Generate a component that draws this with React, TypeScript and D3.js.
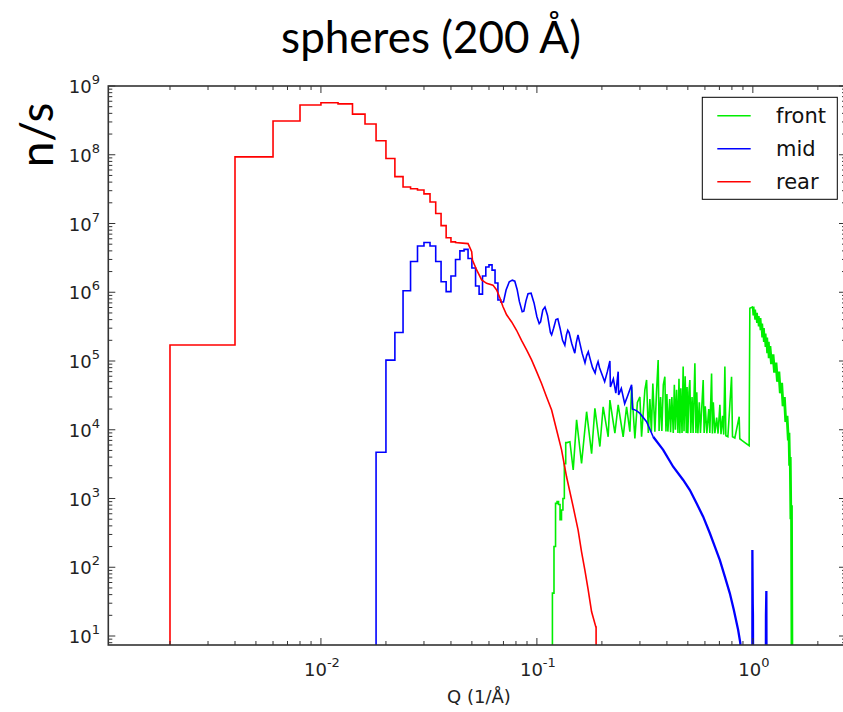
import React from 'react';
import * as d3 from 'd3';

const W = 843;
const H = 712;
const M = { left: 108.3, right: 846, top: 86, bottom: 645 };
const xDomain = [1.036e-3, 2.7];
const yDomain = [7.4, 1e9];

const xMajorExps = [-2, -1, 0];
const yMajorExps = [1, 2, 3, 4, 5, 6, 7, 8, 9];

const titleText = 'spheres (200 Å)';
const yLabelText = 'n/s';
const xLabelText = 'Q (1/Å)';

const seriesNames = ['front', 'mid', 'rear'];
const seriesColors = ['#00ee00', '#0000ff', '#ff0000'];

// value below the axis floor: used where a trace drops off the bottom
const BELOW = 1;

// ---- rear (red) ----
const redBinEdges = [0.002, 0.004, 0.006, 0.008, 0.010, 0.012, 0.014, 0.016, 0.018, 0.020, 0.022,
  0.024, 0.026, 0.028, 0.030, 0.032, 0.034, 0.036, 0.038, 0.040, 0.042];
const redBinValues = [1.71e5, 9.3e7, 3.1e8, 5.3e8, 5.7e8, 5.5e8, 3.9e8, 2.8e8, 1.6e8, 8.8e7,
  4.8e7, 3.4e7, 3.2e7, 3.07e7, 2.7e7, 2.05e7, 1.4e7, 9.3e6, 6.2e6, 5.4e6];
const redTail: [number, number][] = [
  [0.042, 5.3e6], [0.048, 5.1e6], [0.0499, 3.9e6], [0.0503, 2.94e6], [0.0526, 2.11e6],
  [0.0555, 1.51e6], [0.0585, 1.35e6], [0.0626, 1.27e6], [0.0651, 1.08e6], [0.0675, 8.2e5],
  [0.0696, 6.2e5], [0.0724, 4.7e5], [0.0764, 3.7e5], [0.0805, 2.8e5], [0.0849, 2.0e5],
  [0.0896, 1.45e5], [0.0945, 1.04e5], [0.0997, 7.0e4], [0.1051, 4.7e4], [0.1109, 3.0e4],
  [0.117, 1.94e4], [0.1234, 9.9e3], [0.1301, 5.1e3], [0.1372, 2.07e3], [0.1472, 760],
  [0.1552, 348], [0.161, 168], [0.1668, 91], [0.1728, 47], [0.1792, 22.5], [0.1875, 13.5],
  [0.188, 13.5], [0.188, BELOW],
];

// ---- mid (blue) ----
const blueBinEdges = [0.018, 0.020, 0.022, 0.024, 0.026, 0.028, 0.030, 0.032, 0.034, 0.036, 0.038,
  0.040, 0.042, 0.044, 0.046, 0.048, 0.050, 0.052, 0.054, 0.056, 0.058, 0.060, 0.062, 0.064,
  0.066, 0.068, 0.070];
const blueBinValues = [4.7e3, 1.03e5, 2.6e5, 1.05e6, 2.8e6, 4.7e6, 5.3e6, 4.7e6, 2.8e6, 1.42e6,
  1.02e6, 1.72e6, 3.0e6, 4.0e6, 4.2e6, 3.1e6, 2.25e6, 1.23e6, 9.4e5, 1.72e6, 2.33e6, 2.5e6,
  2.1e6, 1.36e6, 7.7e5, 7.2e5];
const blueTail: [number, number][] = [
  [0.070, 7.2e5], [0.072, 1.08e6], [0.0745, 1.42e6], [0.077, 1.5e6], [0.079, 1.45e6],
  [0.081, 1.1e6], [0.083, 7.3e5], [0.0855, 5.2e5], [0.087, 5.3e5], [0.089, 7.5e5],
  [0.091, 9.5e5], [0.094, 9.7e5], [0.097, 7.0e5], [0.100, 4.4e5], [0.1025, 3.5e5],
  [0.104, 3.7e5], [0.1065, 5.5e5], [0.109, 6.1e5], [0.112, 4.6e5], [0.1155, 2.6e5],
  [0.117, 2.4e5], [0.1195, 3.0e5], [0.1225, 4.0e5], [0.125, 4.1e5], [0.128, 3.0e5],
  [0.1315, 2.0e5], [0.1347, 1.7e5], [0.137, 2.4e5], [0.139, 2.8e5], [0.141, 2.6e5],
  [0.145, 1.8e5], [0.1498, 1.3e5], [0.152, 1.8e5], [0.155, 2.4e5], [0.157, 2.0e5],
  [0.162, 1.3e5], [0.167, 9.4e4], [0.170, 1.2e5], [0.173, 1.36e5], [0.176, 1.1e5],
  [0.181, 8.0e4], [0.186, 6.7e4], [0.189, 8.5e4], [0.192, 9.8e4], [0.195, 8.0e4],
  [0.206, 5.0e4], [0.212, 7.0e4], [0.2178, 1.0e5], [0.219, 4.2e4], [0.226, 5.5e4],
  [0.232, 3.4e4], [0.2379, 7.0e4], [0.239, 3.2e4], [0.246, 4.0e4], [0.255, 2.4e4],
  [0.262, 3.0e4], [0.2745, 4.5e4], [0.277, 2.0e4], [0.289, 1.9e4], [0.30, 1.73e4],
  [0.322, 1.31e4], [0.3455, 7.9e3],
];
const blueDecay: [number, number][] = [
  [0.3455, 7.9e3], [0.3843, 5.1e3], [0.4276, 2.9e3], [0.4757, 1.86e3],
  [0.5108, 1.33e3], [0.5487, 851], [0.5888, 544], [0.6324, 312], [0.6669, 199],
  [0.7035, 127], [0.742, 73], [0.7824, 41.8], [0.8166, 23.9], [0.855, 12.2], [0.875, 7.9],
  [0.877, BELOW], [0.995, BELOW], [0.995, 178], [0.999, 30], [1.001, 20], [1.004, BELOW],
  [1.148, BELOW], [1.150, 20], [1.155, 45], [1.158, BELOW],
];

// ---- front (green) ----
const greenBinEdges = [0.118, 0.120, 0.122, 0.124, 0.126, 0.128, 0.130, 0.132, 0.134, 0.136, 0.138];
const greenBinValues = [42, 200, 850, 900, 820, 490, 680, 1.0e3, 3.2e3, 6.5e3];
const greenTail: [number, number][] = [
  [0.1422, 6.7e3], [0.1473, 2.6e3], [0.1527, 1.39e4], [0.161, 3.25e3], [0.1699, 1.83e4],
  [0.1792, 4.5e3], [0.1856, 2.05e4], [0.1957, 5.7e3], [0.2027, 2.16e4], [0.2138, 7.9e3],
  [0.2178, 2.7e4], [0.2297, 8.9e3], [0.2379, 2.3e4], [0.2509, 7.9e3], [0.2602, 2.16e4],
  [0.2695, 9.4e3], [0.2745, 4.2e4], [0.2843, 7.5e3], [0.292, 2.5e4], [0.2999, 3.0e4],
  [0.3053, 7.9e3], [0.3162, 3.8e4], [0.3221, 5.3e4], [0.328, 9.0e3], [0.3336, 2.8e4],
  [0.339, 9.4e3], [0.3443, 4.7e4], [0.3518, 9.4e3], [0.358, 3.5e4], [0.3644, 1.03e5],
  [0.368, 9.6e3], [0.374, 3.0e4], [0.379, 9.6e3], [0.385, 4.5e4], [0.3913, 5.9e4],
  [0.396, 9.4e3], [0.400, 3.3e4], [0.4042, 9.4e3], [0.412, 2.8e4], [0.416, 9.2e3],
  [0.4217, 3.0e4], [0.428, 9.0e3], [0.433, 4.5e4], [0.438, 1.0e4], [0.4435, 3.8e4],
  [0.450, 9.0e3], [0.455, 5.5e4], [0.4592, 8.9e3], [0.464, 4.0e4], [0.470, 9.0e3],
  [0.4757, 8.3e4], [0.480, 9.5e3], [0.486, 6.0e4], [0.492, 9.0e3], [0.496, 4.2e4],
  [0.5002, 8.9e3], [0.506, 3.5e4], [0.5109, 5.3e4], [0.516, 9.0e3], [0.523, 3.0e4],
  [0.529, 9.0e3], [0.539, 9.3e4], [0.545, 9.0e3], [0.550, 3.5e4], [0.5566, 8.9e3],
  [0.565, 2.5e4], [0.572, 9.0e3], [0.5889, 5.3e4], [0.595, 9.0e3], [0.602, 2.2e4],
  [0.6124, 8.9e3], [0.625, 2.0e4], [0.632, 9.0e3], [0.644, 6.6e4], [0.650, 8.8e3],
  [0.656, 2.5e4], [0.6671, 8.9e3], [0.680, 1.5e4], [0.690, 8.8e3], [0.7036, 2.3e4],
  [0.712, 8.6e3], [0.725, 1.6e4], [0.733, 8.5e3], [0.7421, 8.3e4], [0.750, 8.2e3],
  [0.7663, 7.9e3], [0.7969, 5.9e4], [0.805, 7.9e3], [0.8254, 7.6e3], [0.8643, 1.55e4],
  [0.870, 7.4e3], [0.8896, 7.0e3], [0.9184, 6.5e3], [0.9614, 5.86e3], [0.9685, 5.84e5],
  [1.0032, 6.17e5],
];
const greenDecay: [number, number][] = [
  [1.0032, 6.17e5], [1.01, 4.6e5], [1.02, 5.6e5], [1.03, 4.0e5], [1.04, 5.0e5],
  [1.05, 3.6e5], [1.06, 4.5e5], [1.07, 3.2e5], [1.08, 4.2e5], [1.09, 2.8e5], [1.10, 3.5e5],
  [1.11, 2.2e5], [1.12, 3.0e5], [1.13, 1.9e5], [1.14, 2.5e5], [1.15, 1.6e5], [1.16, 2.2e5],
  [1.17, 1.3e5], [1.18, 1.9e5], [1.19, 1.1e5], [1.20, 1.65e5], [1.22, 9.0e4], [1.24, 1.25e5],
  [1.26, 6.8e4], [1.28, 9.5e4], [1.30, 5.0e4], [1.32, 7.0e4], [1.34, 3.4e4], [1.36, 4.8e4],
  [1.38, 2.2e4], [1.40, 3.0e4], [1.42, 1.3e4], [1.44, 1.6e4], [1.46, 7e3], [1.47, 9e3],
  [1.48, 3e3], [1.49, 4e3], [1.50, 500], [1.51, 800], [1.52, BELOW],
];

function buildTrace(edges: number[], values: number[], tail: [number, number][]) {
  const pts: [number, number][] = [[edges[0], BELOW]];
  values.forEach((v, i) => {
    pts.push([edges[i], v]);
    pts.push([edges[i + 1], v]);
  });
  return pts.concat(tail);
}

const traces = [
  { pts: buildTrace(greenBinEdges, greenBinValues, greenTail), color: 0, w: 1.6 },
  { pts: greenDecay, color: 0, w: 2.8 },
  { pts: buildTrace(blueBinEdges, blueBinValues, blueTail), color: 1, w: 1.6 },
  { pts: blueDecay, color: 1, w: 2.3 },
  { pts: buildTrace(redBinEdges, redBinValues, redTail), color: 2, w: 1.6 },
];

export default function App() {
  const x = d3.scaleLog().domain(xDomain).range([M.left, M.right]);
  const y = d3.scaleLog().domain(yDomain).range([M.bottom, M.top]);
  const line = d3.line<[number, number]>().x(d => x(d[0])).y(d => y(d[1]));

  const xMinor: number[] = [];
  for (let e = -3; e <= 0; e++) for (let k = 2; k <= 9; k++) {
    const v = k * Math.pow(10, e);
    if (v > xDomain[0] && v < xDomain[1]) xMinor.push(v);
  }
  const yMinor: number[] = [];
  for (let e = 0; e <= 8; e++) for (let k = 2; k <= 9; k++) {
    const v = k * Math.pow(10, e);
    if (v > yDomain[0] && v < yDomain[1]) yMinor.push(v);
  }
  const axisColor = '#333';
  const tickFont = 'DejaVu Sans, sans-serif';
  const MAJ = 7, MIN = 4;

  return (
    <svg width={W} height={H} style={{ position: 'absolute', left: 0, top: 0, background: '#fff' }}>
      <defs>
        <clipPath id="plotClip">
          <rect x={M.left} y={M.top} width={M.right - M.left} height={M.bottom - M.top} />
        </clipPath>
      </defs>
      <text x={431} y={53} textAnchor="middle" fontFamily="Lato, sans-serif" fontSize={44} fill="#000">{titleText}</text>
      <text transform={`translate(53,135) rotate(-90)`} textAnchor="middle" fontFamily="Lato, sans-serif" fontSize={46} fill="#000">{yLabelText}</text>

      <g clipPath="url(#plotClip)">
        {traces.map((t, i) => (
          <path key={i} d={line(t.pts) || ''} fill="none" stroke={seriesColors[t.color]} strokeWidth={t.w} strokeLinejoin="miter" />
        ))}
      </g>

      {/* ticks */}
      <g stroke={axisColor} strokeWidth={1}>
        {xMajorExps.map(e => {
          const px = x(Math.pow(10, e));
          return (
            <g key={'xM' + e}>
              <line x1={px} x2={px} y1={M.bottom} y2={M.bottom - MAJ} />
              <line x1={px} x2={px} y1={M.top} y2={M.top + MAJ} />
            </g>
          );
        })}
        {xMinor.map((v, i) => {
          const px = x(v);
          return (
            <g key={'xm' + i}>
              <line x1={px} x2={px} y1={M.bottom} y2={M.bottom - MIN} />
              <line x1={px} x2={px} y1={M.top} y2={M.top + MIN} />
            </g>
          );
        })}
        {yMajorExps.map(e => {
          const py = y(Math.pow(10, e));
          return (
            <g key={'yM' + e}>
              <line x1={M.left} x2={M.left + MAJ} y1={py} y2={py} />
              <line x1={M.right} x2={M.right - MAJ} y1={py} y2={py} />
            </g>
          );
        })}
        {yMinor.map((v, i) => {
          const py = y(v);
          return (
            <g key={'ym' + i}>
              <line x1={M.left} x2={M.left + MIN} y1={py} y2={py} />
              <line x1={M.right} x2={M.right - MIN} y1={py} y2={py} />
            </g>
          );
        })}
      </g>

      <rect x={M.left} y={M.top} width={M.right - M.left} height={M.bottom - M.top} fill="none" stroke={axisColor} strokeWidth={1.6} />

      {/* tick labels */}
      {yMajorExps.map(e => (
        <text key={'yl' + e} x={100} y={y(Math.pow(10, e)) + 7} textAnchor="end" fontFamily={tickFont} fontSize={18} fill="#222">
          10<tspan dy={-9} fontSize={13}>{e}</tspan>
        </text>
      ))}
      {xMajorExps.map(e => (
        <text key={'xl' + e} x={x(Math.pow(10, e)) + 1} y={676} textAnchor="middle" fontFamily={tickFont} fontSize={18} fill="#222">
          10<tspan dy={-9} fontSize={13}>{e}</tspan>
        </text>
      ))}
      <text x={479} y={703} textAnchor="middle" fontFamily={tickFont} fontSize={18} fill="#222">{xLabelText}</text>

      {/* legend */}
      <rect x={702.3} y={97.3} width={135} height={102} fill="#fff" stroke="#000" strokeWidth={1} />
      {seriesNames.map((n, i) => (
        <g key={n}>
          <line x1={717.3} x2={750.7} y1={115.7 + i * 33} y2={115.7 + i * 33} stroke={seriesColors[i]} strokeWidth={1.6} />
          <text x={776} y={115.7 + i * 33 + 7} fontFamily={tickFont} fontSize={21} fill="#111">{n}</text>
        </g>
      ))}
    </svg>
  );
}
